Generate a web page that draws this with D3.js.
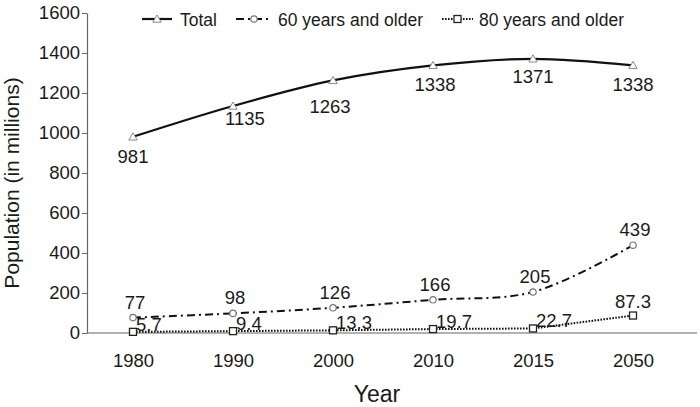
<!DOCTYPE html>
<html>
<head>
<meta charset="utf-8">
<script src="https://cdn.jsdelivr.net/npm/d3@7"></script>
<style>
  body { margin: 0; background: #fff; }
  text { font-family: "Liberation Sans", Arial, sans-serif; fill: #1a1a1a; }
</style>
</head>
<body>
<div id="chart"></div>
<script>
const width = 700
const height = 407

// data
const years = ["1980", "1990", "2000", "2010", "2015", "2050"]
const total = [981, 1135, 1263, 1338, 1371, 1338]
const over60 = [77, 98, 126, 166, 205, 439]
const over80 = [5.7, 9.4, 13.3, 19.7, 22.7, 87.3]
const yTicks = [0, 200, 400, 600, 800, 1000, 1200, 1400, 1600]

// label nudges for the Total series
const totalLabelDx = [0, 12, -3, 2, 0, 0]
const totalLabelDy = [26, 19, 33, 26, 24, 26]

const svg = d3.select("#chart").append("svg").attr("width", width).attr("height", height)

const x = d3.scalePoint().domain(years).range([133, 633])
const y = d3.scaleLinear().domain([0, 1600]).range([333, 13])

const fontFam = "Liberation Sans, Arial, sans-serif"

// y axis
const yGroup = svg.append("g").attr("transform", "translate(87,0)")
    .call(d3.axisLeft(y).tickValues(yTicks).tickFormat(d3.format("d")).tickSize(5).tickSizeOuter(0).tickPadding(2))
yGroup.select(".domain").attr("stroke", "#666").attr("stroke-width", 1.2)
yGroup.selectAll(".tick line").attr("stroke", "#666")
yGroup.selectAll(".tick text").attr("font-size", 18.5).attr("fill", "#1a1a1a").style("font-family", fontFam)

// x axis (labels only, base line drawn separately)
const xGroup = svg.append("g").attr("transform", "translate(0,333)")
    .call(d3.axisBottom(x).tickSize(0).tickPadding(21))
xGroup.select(".domain").remove()
xGroup.selectAll(".tick text").attr("font-size", 18.5).attr("fill", "#1a1a1a").style("font-family", fontFam)
svg.append("line").attr("x1", 87).attr("x2", 697).attr("y1", y(0)).attr("y2", y(0))
    .attr("stroke", "#666").attr("stroke-width", 1.2)

// axis titles
svg.append("text").text("Population (in millions)")
    .attr("transform", "translate(19,183) rotate(-90)")
    .attr("text-anchor", "middle").attr("font-size", 21)
svg.append("text").text("Year")
    .attr("x", 377).attr("y", 402).attr("text-anchor", "middle").attr("font-size", 23)

const smooth = d3.line().x((d, i) => x(years[i])).y(d => y(d)).curve(d3.curveCatmullRom.alpha(0.5))
const straight = d3.line().x((d, i) => x(years[i])).y(d => y(d))

const series = [
    { name: "Total", values: total, dash: null, width: 2.2, line: smooth },
    { name: "60 years and older", values: over60, dash: "8,4,2,4", width: 2, line: smooth },
    { name: "80 years and older", values: over80, dash: "1.6,1.4", width: 2, line: straight }
]

series.forEach(s => {
    svg.append("path").datum(s.values)
        .attr("d", s.line)
        .attr("fill", "none")
        .attr("stroke", "#111")
        .attr("stroke-width", s.width)
        .attr("stroke-dasharray", s.dash)
})

const tri = d3.symbol().type(d3.symbolTriangle).size(30)

function marker(g, kind, cx, cy) {
    if (kind === 0) {
        g.append("path").attr("d", tri).attr("transform", `translate(${cx},${cy + 0.8})`)
            .attr("fill", "#fff").attr("stroke", "#888").attr("stroke-width", 1)
    } else if (kind === 1) {
        g.append("circle").attr("cx", cx).attr("cy", cy).attr("r", 3.2)
            .attr("fill", "#fff").attr("stroke", "#777").attr("stroke-width", 1.2)
    } else {
        g.append("rect").attr("x", cx - 3.5).attr("y", cy - 3.5).attr("width", 7).attr("height", 7)
            .attr("fill", "#fff").attr("stroke", "#222").attr("stroke-width", 1.3)
    }
}

const marks = svg.append("g")
series.forEach((s, k) => {
    s.values.forEach((v, i) => marker(marks, k, x(years[i]), y(v)))
})

// value labels
svg.append("g").selectAll("text").data(total).join("text")
    .text(d => d)
    .attr("x", (d, i) => x(years[i]) + totalLabelDx[i])
    .attr("y", (d, i) => y(d) + totalLabelDy[i])
    .attr("text-anchor", "middle").attr("font-size", 18.5)

svg.append("g").selectAll("text").data(over60).join("text")
    .text(d => d)
    .attr("x", (d, i) => x(years[i]) + 2)
    .attr("y", d => y(d) - 9)
    .attr("text-anchor", "middle").attr("font-size", 18.5)

svg.append("g").selectAll("text").data(over80).join("text")
    .text(d => d)
    .attr("x", (d, i) => i === over80.length - 1 ? x(years[i]) : x(years[i]) + 3)
    .attr("y", (d, i) => i === over80.length - 1 ? y(d) - 8 : y(d) - 1)
    .attr("text-anchor", (d, i) => i === over80.length - 1 ? "middle" : "start")
    .attr("font-size", 18.5)

// legend
const legend = svg.append("g")
const legendItems = [
    { x1: 142, x2: 172, text: 180 },
    { x1: 236, x2: 272, text: 278 },
    { x1: 442, x2: 473, text: 479 }
]
legendItems.forEach((l, k) => {
    legend.append("line").attr("x1", l.x1).attr("x2", l.x2).attr("y1", 19).attr("y2", 19)
        .attr("stroke", "#111").attr("stroke-width", series[k].width)
        .attr("stroke-dasharray", series[k].dash)
    marker(legend, k, (l.x1 + l.x2) / 2, 19)
    legend.append("text").text(series[k].name)
        .attr("x", l.text).attr("y", 25.5).attr("font-size", 17.5)
})
</script>
</body>
</html>
